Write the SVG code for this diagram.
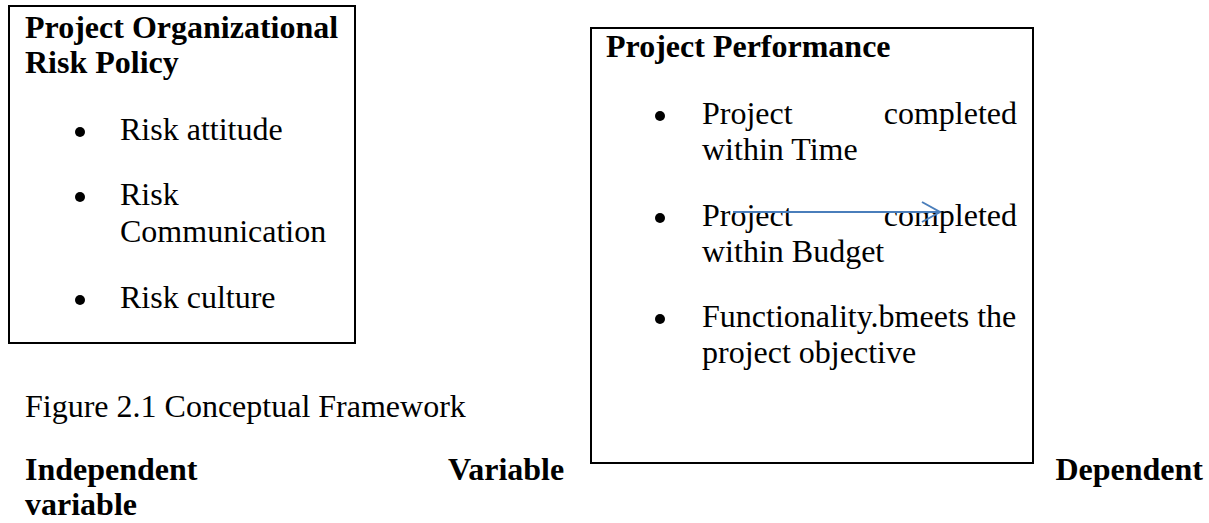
<svg xmlns="http://www.w3.org/2000/svg" width="1209" height="523" viewBox="0 0 1209 523">
<style>
text{font-family:"Liberation Serif","Times New Roman",serif;font-size:32px;fill:#000}
.b{font-weight:bold}
.box{fill:none;stroke:#000;stroke-width:2}
.end{text-anchor:end}
</style>
<defs>
<marker id="arr" markerUnits="userSpaceOnUse" markerWidth="24" markerHeight="24" refX="19" refY="11" orient="auto">
<polyline points="1,1 19,11 1,21" fill="none" stroke="#4A7EBB" stroke-width="2"/>
</marker>
</defs>
<rect width="1209" height="523" fill="#fff"/>
<g id="node-policy">
<rect class="box" x="9" y="6" width="346" height="337"/>
<text class="b" x="25" y="38">Project Organizational</text>
<text class="b" x="25" y="73">Risk Policy</text>
<circle cx="80" cy="132" r="5"/>
<text x="120" y="140">Risk attitude</text>
<circle cx="80" cy="197" r="5"/>
<text x="120" y="205">Risk</text>
<text x="120" y="242">Communication</text>
<circle cx="80" cy="300" r="5"/>
<text x="120" y="308">Risk culture</text>
</g>
<g id="node-performance">
<rect class="box" x="591" y="28" width="442" height="435"/>
<text class="b" x="606" y="57">Project Performance</text>
<circle cx="660" cy="116" r="5"/>
<text x="702" y="124">Project</text>
<text class="end" x="1017" y="124">completed</text>
<text x="702" y="160">within Time</text>
<circle cx="660" cy="218" r="5"/>
<text x="702" y="226">Project</text>
<text class="end" x="1017" y="226">completed</text>
<text x="702" y="262">within Budget</text>
<circle cx="660" cy="319" r="5"/>
<text x="702" y="327">Functionality.bmeets the</text>
<text x="702" y="363">project objective</text>
</g>
<g id="labels">
<text x="25" y="417">Figure 2.1 Conceptual Framework</text>
<text class="b" x="25" y="480">Independent</text>
<text class="b" x="448" y="480">Variable</text>
<text class="b end" x="1203" y="480">Dependent</text>
<text class="b" x="25" y="515">variable</text>
</g>
<g id="connectors">
<line x1="733" y1="212" x2="940" y2="212" stroke="#4A7EBB" stroke-width="2" marker-end="url(#arr)"/>
</g>
</svg>
